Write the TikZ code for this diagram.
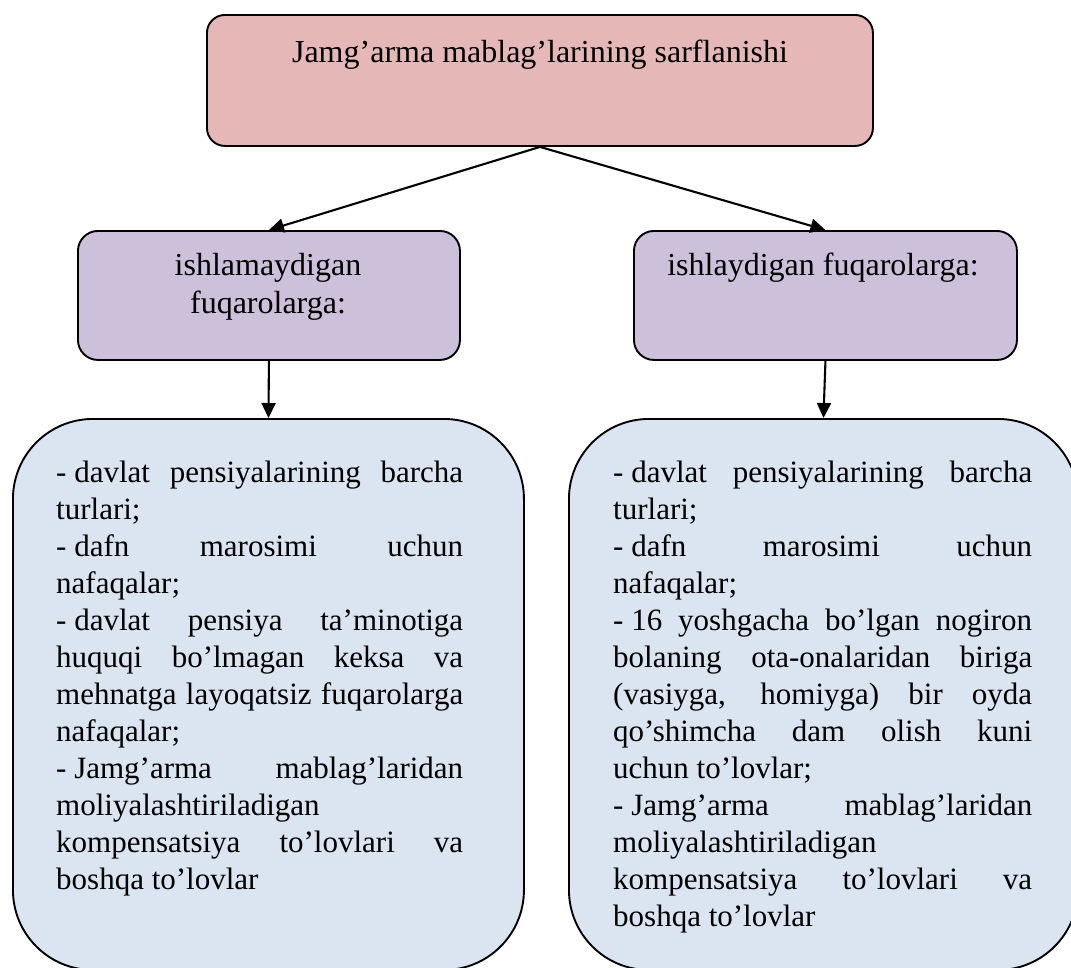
\documentclass[tikz,border=0pt]{standalone}
\usepackage{fontspec}
\setmainfont{Liberation Serif}
\usetikzlibrary{arrows.meta}
\definecolor{topfill}{RGB}{229,184,183}
\definecolor{midfill}{RGB}{204,192,218}
\definecolor{lowfill}{RGB}{219,229,241}
\newcommand{\jline}[1]{\hbox to\hsize{#1}}
\newcommand{\lline}[1]{\hbox to\hsize{#1\hfil}}
\newcommand{\dsh}{-\kern0.25em}
\begin{document}
\begin{tikzpicture}[x=1pt,y=-1pt,
  box/.style={draw=black,line width=1.9pt,inner sep=0pt,anchor=north west},
  txt/.style={inner sep=0pt,font=\fontsize{31}{37}\selectfont},
  bigtxt/.style={inner sep=0pt,font=\fontsize{32}{38}\selectfont},
  arr/.style={line width=2.1pt,-{Triangle[length=15pt,width=14pt]}}]
\useasboundingbox (0,0) rectangle (1071,967);
\clip (0,0) rectangle (1071,967);
% boxes
\node[box,fill=topfill,rounded corners=18pt,minimum width=666pt,minimum height=131pt] (top) at (206,14) {};
\node[box,fill=midfill,rounded corners=20pt,minimum width=382pt,minimum height=129pt] (lp) at (77,230) {};
\node[box,fill=midfill,rounded corners=20pt,minimum width=383pt,minimum height=129pt] (rp) at (633,230) {};
\node[box,fill=lowfill,rounded corners=80pt,minimum width=511pt,minimum height=551pt] (lb) at (12,418) {};
\node[box,fill=lowfill,rounded corners=80pt,minimum width=509pt,minimum height=551pt] (rb) at (568,418) {};
% texts
\node[bigtxt,anchor=base] (toptext) at (540,62) {Jamg’arma mablag’larining sarflanishi};
\node[bigtxt,anchor=base] (lptext) at (268,275) {\parbox[t]{370pt}{\centering ishlamaydigan\\ fuqarolarga:}};
\node[bigtxt,anchor=base] (rptext) at (823,275) {ishlaydigan fuqarolarga:};
\node[txt,anchor=base west] (lbtext) at (56,482) {\parbox[t]{407pt}{%
\jline{\dsh davlat pensiyalarining barcha}
\lline{turlari;}
\jline{\dsh dafn marosimi uchun}
\lline{nafaqalar;}
\jline{\dsh davlat pensiya ta’minotiga}
\jline{huquqi bo’lmagan keksa va}
\jline{mehnatga layoqatsiz fuqarolarga}
\lline{nafaqalar;}
\jline{\dsh Jamg’arma mablag’laridan}
\lline{moliyalashtiriladigan}
\jline{kompensatsiya to’lovlari va}
\lline{boshqa to’lovlar}}};
\node[txt,anchor=base west] (rbtext) at (613,482) {\parbox[t]{419pt}{%
\jline{\dsh davlat pensiyalarining barcha}
\lline{turlari;}
\jline{\dsh dafn marosimi uchun}
\lline{nafaqalar;}
\jline{\dsh 16 yoshgacha bo’lgan nogiron}
\jline{bolaning ota-onalaridan biriga}
\jline{(vasiyga, homiyga) bir oyda}
\jline{qo’shimcha dam olish kuni}
\lline{uchun to’lovlar;}
\jline{\dsh Jamg’arma mablag’laridan}
\lline{moliyalashtiriladigan}
\jline{kompensatsiya to’lovlari va}
\lline{boshqa to’lovlar}}};
% connectors
\draw[arr] (top.south) -- (lp.north);
\draw[arr] (top.south) -- (rp.north);
\draw[arr] (lp.south) -- (lb.north);
\draw[arr] (rp.south) -- (rb.north);
\end{tikzpicture}
\end{document}
